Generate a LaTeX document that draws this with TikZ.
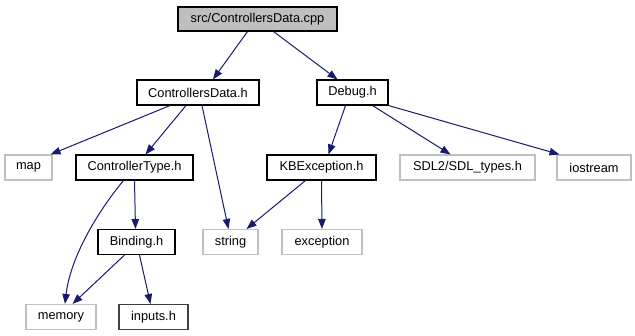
\documentclass[tikz,border=0pt]{standalone}
\usepackage{fontspec}
\setmainfont{Liberation Sans}
\usetikzlibrary{arrows.meta,calc}
\definecolor{edgeblue}{HTML}{191970}
\definecolor{extgray}{HTML}{C0C0C0}
\definecolor{rootfill}{HTML}{BFBFBF}
\begin{document}
\begin{tikzpicture}[x=1pt,y=-1pt,
  file/.style={draw=black,line width=1.1pt,fill=white,inner sep=0pt,
    minimum height=25pt,font=\fontsize{12.8}{14}\selectfont},
  extfile/.style={file,draw=extgray},
  leaffile/.style={file,draw=black!75},
  rootfile/.style={file,fill=rootfill,minimum height=24pt},
  dep/.style={draw=edgeblue,line width=1pt,
    -{Triangle[length=10pt,width=7.5pt,fill=edgeblue]}}]
\useasboundingbox (0,0) rectangle (635,336);
\fill[white] (0,0) rectangle (635,336);

% files
\node[rootfile,minimum width=159pt] (cpp)     at (257.5,19)  {src/ControllersData.cpp};
\node[file,minimum width=122pt]     (cdh)     at (198,92.5)  {ControllersData.h};
\node[file,minimum width=71pt]      (dbg)     at (352.5,92.5){Debug.h};
\node[extfile,minimum width=47pt]   (map)     at (28.5,167.5){map};
\node[file,minimum width=117pt]     (ctype)   at (134.5,167.5){ControllerType.h};
\node[file,minimum width=109pt]     (kbe)     at (321.5,167.5){KBException.h};
\node[extfile,minimum width=135pt]  (sdl)     at (467.5,167.5){SDL2/SDL\_types.h};
\node[extfile,minimum width=74pt]   (ios)     at (594,167.5) {iostream};
\node[extfile,minimum width=55pt]   (string)  at (230.5,242) {string};
\node[extfile,minimum width=80pt]   (exc)     at (322,242)   {exception};
\node[file,minimum width=77pt]      (binding) at (136.5,242) {Binding.h};
\node[extfile,minimum width=70pt]   (memory)  at (61,317)    {memory};
\node[leaffile,minimum width=69pt]  (inputs)  at (153.5,317) {inputs.h};

% include dependencies
\draw[dep] ($(cpp.south)+(-10,0)$) -- ($(cdh.north)+(15,0)$);
\draw[dep] ($(cpp.south)+(16,0)$) -- ($(dbg.north)+(-15,0)$);
\draw[dep] ($(cdh.south)+(-28,0)$) -- ($(map.north east)+(-2,0)$);
\draw[dep] ($(cdh.south)+(-12,0)$) -- ($(ctype.north)+(11,0)$);
\draw[dep] ($(cdh.south)+(4,0)$) -- ($(string.north)+(-2,0)$);
\draw[dep] ($(dbg.south)+(-7,0)$) -- ($(kbe.north)+(7,0)$);
\draw[dep] ($(dbg.south)+(20,0)$) -- ($(sdl.north)+(-17,0)$);
\draw[dep] (dbg.south east) -- ($(ios.north west)+(3,0)$);
\draw[dep] ($(kbe.south)+(-16,0)$) -- ($(string.north east)+(-12,0)$);
\draw[dep] (kbe.south) -- (exc.north);
\draw[dep] ($(ctype.south)+(-11,0)$)
  .. controls ($(ctype.south)+(-40,35)$) and ($(memory.north)+(9,-44)$)
  .. ($(memory.north)+(4,0)$);
\draw[dep] (ctype.south) -- ($(binding.north)+(-1,0)$);
\draw[dep] ($(binding.south)+(-12,0)$) -- ($(memory.north east)+(-24,0)$);
\draw[dep] ($(binding.south)+(3,0)$) -- ($(inputs.north)+(-3,0)$);
\end{tikzpicture}
\end{document}
